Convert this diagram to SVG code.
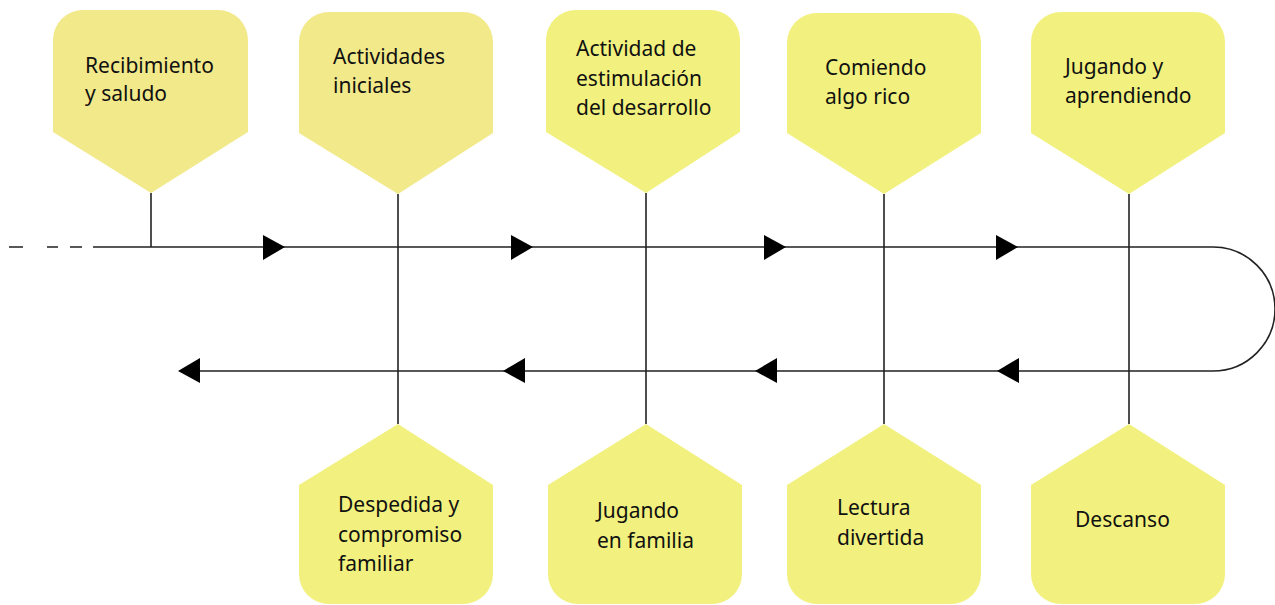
<svg xmlns="http://www.w3.org/2000/svg" width="1275" height="605" viewBox="0 0 1275 605">
<style>
.n1{fill:#f2e98b}
.n2{fill:#f2f17f}
.ln{stroke:#222;stroke-width:1.6;fill:none}
.ah{fill:#000}
text{font-family:"Noto Sans",sans-serif;font-size:21px;fill:#111}
</style>
<rect width="1275" height="605" fill="#fff"/>
<g id="connectors">
<path class="ln" d="M9 247 H23 M47 247 H58 M70 247 H82 M93 247 H107"/>
<path class="ln" d="M107 247 H1213 A62 62 0 0 1 1213 371 H180"/>
<line class="ln" x1="151" y1="193" x2="151" y2="247"/>
<line class="ln" x1="398" y1="194" x2="398" y2="424"/>
<line class="ln" x1="646" y1="193" x2="646" y2="424"/>
<line class="ln" x1="884" y1="194" x2="884" y2="424"/>
<line class="ln" x1="1129" y1="194" x2="1129" y2="424"/>
<path class="ah" d="M263 235 L285 247 L263 260 Z"/>
<path class="ah" d="M511 235 L533 247 L511 260 Z"/>
<path class="ah" d="M764 235 L786 247 L764 260 Z"/>
<path class="ah" d="M996 235 L1018 247 L996 260 Z"/>
<path class="ah" d="M178 371 L200 358 L200 383 Z"/>
<path class="ah" d="M503 371 L525 358 L525 383 Z"/>
<path class="ah" d="M755 371 L777 358 L777 383 Z"/>
<path class="ah" d="M997 371 L1019 358 L1019 383 Z"/>
</g>
<g id="node-recibimiento">
<path class="n1" d="M53 132 V40 A30 30 0 0 1 83 10 H218 A30 30 0 0 1 248 40 V132 L151 193 Z"/>
<text x="85" y="73">Recibimiento</text>
<text x="85" y="101">y saludo</text>
</g>
<g id="node-actividades">
<path class="n1" d="M299 133 V42 A30 30 0 0 1 329 12 H463 A30 30 0 0 1 493 42 V133 L398 194 Z"/>
<text x="333" y="64">Actividades</text>
<text x="333" y="93">iniciales</text>
</g>
<g id="node-estimulacion">
<path class="n2" d="M546 132 V40 A30 30 0 0 1 576 10 H710 A30 30 0 0 1 740 40 V132 L646 193 Z"/>
<text x="576" y="56">Actividad de</text>
<text x="576" y="86">estimulación</text>
<text x="576" y="115">del desarrollo</text>
</g>
<g id="node-comiendo">
<path class="n2" d="M787 133 V43 A30 30 0 0 1 817 13 H951 A30 30 0 0 1 981 43 V133 L884 194 Z"/>
<text x="825" y="75">Comiendo</text>
<text x="825" y="104">algo rico</text>
</g>
<g id="node-jugando">
<path class="n2" d="M1031 133 V42 A30 30 0 0 1 1061 12 H1195 A30 30 0 0 1 1225 42 V133 L1129 194 Z"/>
<text x="1065" y="74">Jugando y</text>
<text x="1065" y="103">aprendiendo</text>
</g>
<g id="node-despedida">
<path class="n2" d="M299 485 V574 A30 30 0 0 0 329 604 H463 A30 30 0 0 0 493 574 V485 L398 424 Z"/>
<text x="338" y="512">Despedida y</text>
<text x="338" y="542">compromiso</text>
<text x="338" y="571">familiar</text>
</g>
<g id="node-familia">
<path class="n2" d="M548 485 V574 A30 30 0 0 0 578 604 H712 A30 30 0 0 0 742 574 V485 L646 424 Z"/>
<text x="597" y="518">Jugando</text>
<text x="597" y="548">en familia</text>
</g>
<g id="node-lectura">
<path class="n2" d="M787 485 V574 A30 30 0 0 0 817 604 H951 A30 30 0 0 0 981 574 V485 L884 424 Z"/>
<text x="837" y="515">Lectura</text>
<text x="837" y="545">divertida</text>
</g>
<g id="node-descanso">
<path class="n2" d="M1031 485 V574 A30 30 0 0 0 1061 604 H1195 A30 30 0 0 0 1225 574 V485 L1129 424 Z"/>
<text x="1075" y="527">Descanso</text>
</g>
</svg>
